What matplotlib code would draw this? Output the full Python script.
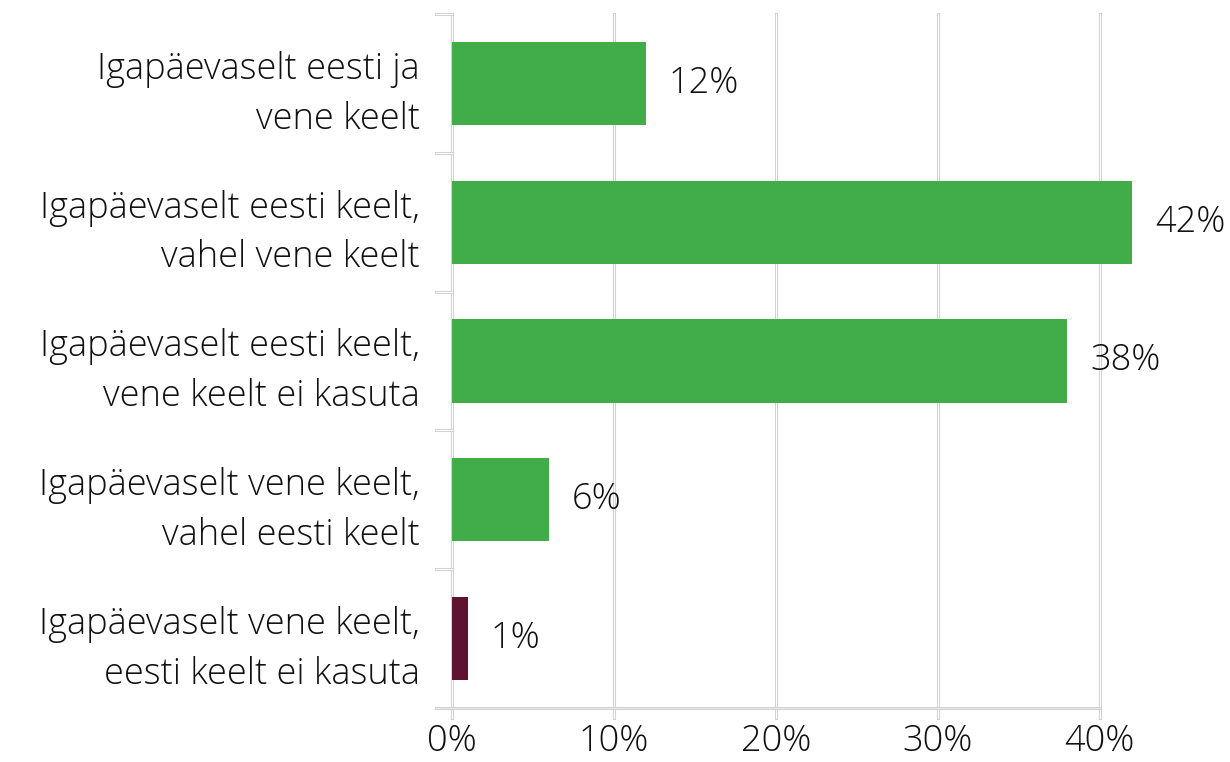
import matplotlib
matplotlib.use('Agg')
from matplotlib import pyplot

labels = [
    'Igapäevaselt eesti ja\nvene keelt',
    'Igapäevaselt eesti keelt,\nvahel vene keelt',
    'Igapäevaselt eesti keelt,\nvene keelt ei kasuta',
    'Igapäevaselt vene keelt,\nvahel eesti keelt',
    'Igapäevaselt vene keelt,\neesti keelt ei kasuta',
]
values = [12, 42, 38, 6, 1]
colors = ['#41ad49', '#41ad49', '#41ad49', '#41ad49', '#5e1431']
xticks = [0, 10, 20, 30, 40]

pyplot.rcParams['font.family'] = ['Open Sans', 'DejaVu Sans']
pyplot.rcParams['font.weight'] = 'light'

fig = pyplot.figure(figsize=(12.3, 7.62), dpi=100)
ax = fig.add_axes([0.3675, 0.0709, 0.5595, 0.9107])

y = list(range(len(values)))
ax.barh(y, values, height=0.6, color=colors, zorder=3)
ax.set_ylim(len(values) - 0.5, -0.5)
ax.set_xlim(0, 42.5)

# grid lines, drawn a bit past the bottom axis like tick marks
for t in xticks:
    ax.plot([t, t], [-0.5, len(values) - 0.5 + 0.07], color='#d0d0d0',
            lw=2.2, zorder=1, clip_on=False)
    ax.plot([t, t], [-0.5, len(values) - 0.5 + 0.07], color='white',
            lw=0.8, zorder=1, clip_on=False)
ax.plot([-1.0, 40], [len(values) - 0.5] * 2, color='#d0d0d0', lw=2.2,
        zorder=2, clip_on=False)
ax.plot([-1.0, 40], [len(values) - 0.5] * 2, color='#e8e8e8', lw=0.8,
        zorder=2, clip_on=False)
for b in range(len(values)):
    ax.plot([-1.0, 0], [b - 0.5] * 2, color='#d0d0d0', lw=2.2,
            zorder=1, clip_on=False)
    ax.plot([-1.0, 0], [b - 0.5] * 2, color='white', lw=0.8,
            zorder=1, clip_on=False)

for s in ax.spines.values():
    s.set_visible(False)

ax.set_yticks(y)
ax.set_yticklabels(labels, fontsize=26, linespacing=1.45, color='#111111')
ax.tick_params(axis='y', length=0, pad=23)
ax.set_xticks(xticks)
ax.set_xticklabels(['{}%'.format(t) for t in xticks], fontsize=26,
                   color='#111111')
ax.tick_params(axis='x', length=0, pad=11)

for i, v in enumerate(values):
    ax.text(v + 1.4, i, '{}%'.format(v), va='center', ha='left',
            fontsize=26, color='#111111')

fig.savefig('out.png')
